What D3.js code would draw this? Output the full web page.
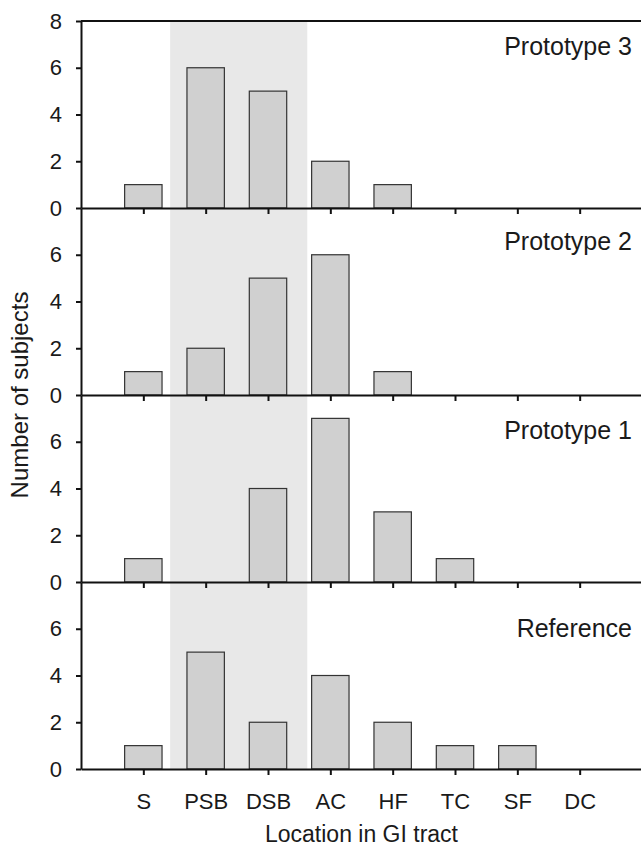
<!DOCTYPE html>
<html>
<head>
<meta charset="utf-8">
<script src="https://cdn.jsdelivr.net/npm/d3@7"></script>
<style>
  body { margin: 0; background: #fff; }
  svg text { font-family: "Liberation Sans", Arial, sans-serif; fill: #1a1a1a; }
  .axis path, .axis line { stroke: #111; stroke-width: 2; }
  .bar { fill: #d0d0d0; stroke: #333; stroke-width: 1.2; }
</style>
</head>
<body>
<div id="chart"></div>
<script>
const width = 641;
const height = 849;

// data
const categories = ["S", "PSB", "DSB", "AC", "HF", "TC", "SF", "DC"];
const prototype3 = [1, 6, 5, 2, 1, 0, 0, 0];
const prototype2 = [1, 2, 5, 6, 1, 0, 0, 0];
const prototype1 = [1, 0, 4, 7, 3, 1, 0, 0];
const reference  = [1, 5, 2, 4, 2, 1, 1, 0];
const panelNames = ["Prototype 3", "Prototype 2", "Prototype 1", "Reference"];
const panelValues = [prototype3, prototype2, prototype1, reference];
const shadeSpan = [1.43, 3.63]; // shaded band, in category positions (S = 1)

const plotLeft = 81, plotRight = 642, plotTop = 21, panelH = 187;

const svg = d3.select("#chart")
    .append("svg")
    .attr("width", width)
    .attr("height", height);

const x = d3.scalePoint()
    .domain(categories)
    .range([plotLeft, plotRight])
    .padding(1);
const xPos = d3.scaleLinear()
    .domain([0, categories.length + 1])
    .range([plotLeft, plotRight]);
const barW = x.step() * 0.6;

// shaded band across all panels
svg.append("rect")
    .attr("x", xPos(shadeSpan[0]))
    .attr("y", plotTop)
    .attr("width", xPos(shadeSpan[1]) - xPos(shadeSpan[0]))
    .attr("height", panelH * 4)
    .attr("fill", "#e8e8e8");

// title heights in data units, placed by eye
const titleAt = [6.55, 6.2, 6.1, 5.65];

panelValues.forEach((vals, i) => {
    const y0 = plotTop + i * panelH;
    const y = d3.scaleLinear().domain([0, 8]).range([y0 + panelH, y0]);
    const g = svg.append("g");

    g.selectAll(".bar")
        .data(categories.map((c, k) => ({ c, v: vals[k] })).filter(d => d.v > 0))
        .join("rect")
        .attr("class", "bar")
        .attr("x", d => x(d.c) - barW / 2)
        .attr("y", d => y(d.v))
        .attr("width", barW)
        .attr("height", d => y(0) - y(d.v));

    // y axis
    const ticks = i === 0 ? [0, 2, 4, 6, 8] : [0, 2, 4, 6];
    g.append("g")
        .attr("class", "axis")
        .attr("transform", `translate(${plotLeft},0)`)
        .call(d3.axisLeft(y).tickValues(ticks).tickSize(5).tickSizeOuter(0).tickPadding(14))
        .call(a => a.selectAll("text").attr("font-size", 22).attr("font-family", null));

    // x axis
    const xa = g.append("g")
        .attr("class", "axis")
        .attr("transform", `translate(0,${y(0)})`)
        .call(d3.axisBottom(x).tickSize(6).tickSizeOuter(0).tickPadding(18));
    xa.selectAll("text").attr("font-size", 22).attr("font-family", null);
    if (i < 3) xa.selectAll("text").remove();

    g.append("text")
        .attr("x", 632)
        .attr("y", y(titleAt[i]))
        .attr("text-anchor", "end")
        .attr("font-size", 25)
        .text(panelNames[i]);
});

// top border
svg.append("line")
    .attr("x1", plotLeft).attr("x2", plotRight)
    .attr("y1", plotTop).attr("y2", plotTop)
    .attr("stroke", "#111").attr("stroke-width", 2);

svg.append("text")
    .attr("transform", `translate(28,${plotTop + panelH * 2}) rotate(-90)`)
    .attr("text-anchor", "middle")
    .attr("font-size", 24)
    .text("Number of subjects");

svg.append("text")
    .attr("x", (plotLeft + plotRight) / 2)
    .attr("y", 842)
    .attr("text-anchor", "middle")
    .attr("font-size", 23)
    .text("Location in GI tract");
</script>
</body>
</html>
